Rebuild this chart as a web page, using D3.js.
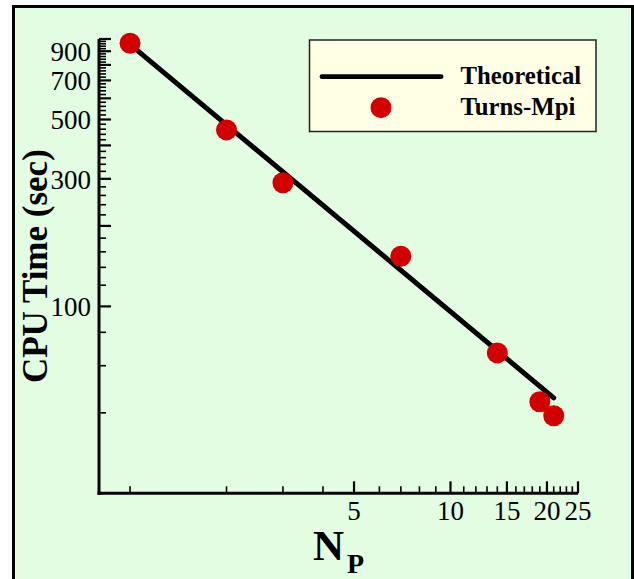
<!DOCTYPE html>
<html>
<head>
<meta charset="utf-8">
<script src="https://cdn.jsdelivr.net/npm/d3@7"></script>
<style>
  html, body { margin: 0; padding: 0; background: #ffffff; }
  svg { display: block; }
  text { font-family: "Liberation Serif", "Times New Roman", serif; }
</style>
</head>
<body>
<svg id="chart" width="634" height="579"></svg>
<script>
// ---- data ----
const procs = [1, 2, 3, 7, 14, 19, 21];
const cpuTimes = [964, 457, 290, 154, 67, 44, 39];
const theoreticalProcs = [1, 21];
const theoreticalTimes = [955, 45.5];

const xTickLabels = [5, 10, 15, 20, 25];
const yTickLabels = [100, 300, 500, 700, 900];
const xDomain = [0.8, 25];
const yDomain = [20, 1000];

const legendLabels = ["Theoretical", "Turns-Mpi"];

// ---- layout ----
const W = 634, H = 579;
const plot = { left: 99, right: 578, top: 39, bottom: 493.3 };
const green = "#E3FDE3";
const red = "#D20000";

const svg = d3.select("#chart");

// background + frame
svg.append("rect").attr("x", 0).attr("y", 0).attr("width", W).attr("height", H).attr("fill", "#fff");
svg.append("rect")
  .attr("x", 13.5).attr("y", 6.5).attr("width", 619).attr("height", 620)
  .attr("fill", green).attr("stroke", "#000").attr("stroke-width", 3);

const x = d3.scaleLog().domain(xDomain).range([plot.left, plot.right]);
const y = d3.scaleLog().domain(yDomain).range([plot.bottom, plot.top]);

// x minor/major ticks
const xMinor = d3.range(1, 26).filter(v => !xTickLabels.includes(v));
const gx = svg.append("g");
gx.selectAll("line.minor").data(xMinor).join("line")
  .attr("x1", d => x(d)).attr("x2", d => x(d))
  .attr("y1", plot.bottom).attr("y2", plot.bottom - 7)
  .attr("stroke", "#000").attr("stroke-width", 1.6);
gx.selectAll("line.major").data(xTickLabels).join("line")
  .attr("x1", d => x(d)).attr("x2", d => x(d))
  .attr("y1", plot.bottom).attr("y2", plot.bottom - 12)
  .attr("stroke", "#000").attr("stroke-width", 2.2);
gx.selectAll("text.tl").data(xTickLabels).join("text")
  .attr("class", "tl")
  .attr("x", d => x(d)).attr("y", 520)
  .attr("text-anchor", "middle")
  .attr("font-size", 27)
  .attr("fill", "#000")
  .text(d => d);

// y ticks
const yAll = d3.range(20, 1001, 20);
const gy = svg.append("g");
gy.selectAll("line.yt").data(yAll).join("line")
  .attr("x1", plot.left).attr("x2", d => plot.left + (d % 100 === 0 ? 12 : 7))
  .attr("y1", d => y(d)).attr("y2", d => y(d))
  .attr("stroke", "#000").attr("stroke-width", d => d % 100 === 0 ? 2.2 : 1.6);
gy.selectAll("text.yl").data(yTickLabels).join("text")
  .attr("x", 91).attr("y", d => y(d) + 10)
  .attr("text-anchor", "end")
  .attr("font-size", 27)
  .attr("fill", "#000")
  .text(d => d);

// axis lines
svg.append("line").attr("x1", plot.left).attr("x2", plot.left)
  .attr("y1", plot.top).attr("y2", plot.bottom + 1.5)
  .attr("stroke", "#000").attr("stroke-width", 3);
svg.append("line").attr("x1", plot.left - 1.5).attr("x2", plot.right)
  .attr("y1", plot.bottom).attr("y2", plot.bottom)
  .attr("stroke", "#000").attr("stroke-width", 3);

// theoretical line
const line = d3.line().x(d => x(d[0])).y(d => y(d[1]));
svg.append("path")
  .datum(theoreticalProcs.map((p, i) => [p, theoreticalTimes[i]]))
  .attr("d", line)
  .attr("fill", "none").attr("stroke", "#000")
  .attr("stroke-width", 5).attr("stroke-linecap", "round");

// points
svg.selectAll("circle.pt").data(procs.map((p, i) => [p, cpuTimes[i]])).join("circle")
  .attr("cx", d => x(d[0])).attr("cy", d => y(d[1]))
  .attr("r", 10.5).attr("fill", red);

// axis titles
svg.append("text")
  .attr("transform", "translate(47," + ((plot.top + plot.bottom) / 2) + ") rotate(-90)")
  .attr("text-anchor", "middle")
  .attr("font-size", 35).attr("font-weight", "bold")
  .attr("fill", "#000")
  .text("CPU Time (sec)");

const xt = svg.append("text").attr("fill", "#000").attr("font-weight", "bold");
xt.append("tspan").attr("x", 313).attr("y", 559.5).attr("font-size", 43).text("N");
xt.append("tspan").attr("x", 347).attr("y", 573).attr("font-size", 28).text("P");

// legend
const lg = svg.append("g");
lg.append("rect").attr("x", 309.5).attr("y", 40).attr("width", 286.5).attr("height", 91.5)
  .attr("fill", "#FFFFE6").attr("stroke", "#222").attr("stroke-width", 1.5);
lg.append("line").attr("x1", 322).attr("x2", 441).attr("y1", 76.7).attr("y2", 76.7)
  .attr("stroke", "#000").attr("stroke-width", 4.8).attr("stroke-linecap", "round");
lg.append("circle").attr("cx", 381).attr("cy", 107.7).attr("r", 10.5).attr("fill", red);
lg.selectAll("text").data(legendLabels).join("text")
  .attr("x", 460.5).attr("y", (d, i) => i === 0 ? 84 : 115)
  .attr("font-size", 24.8).attr("font-weight", "bold").attr("fill", "#000")
  .text(d => d);
</script>
</body>
</html>
